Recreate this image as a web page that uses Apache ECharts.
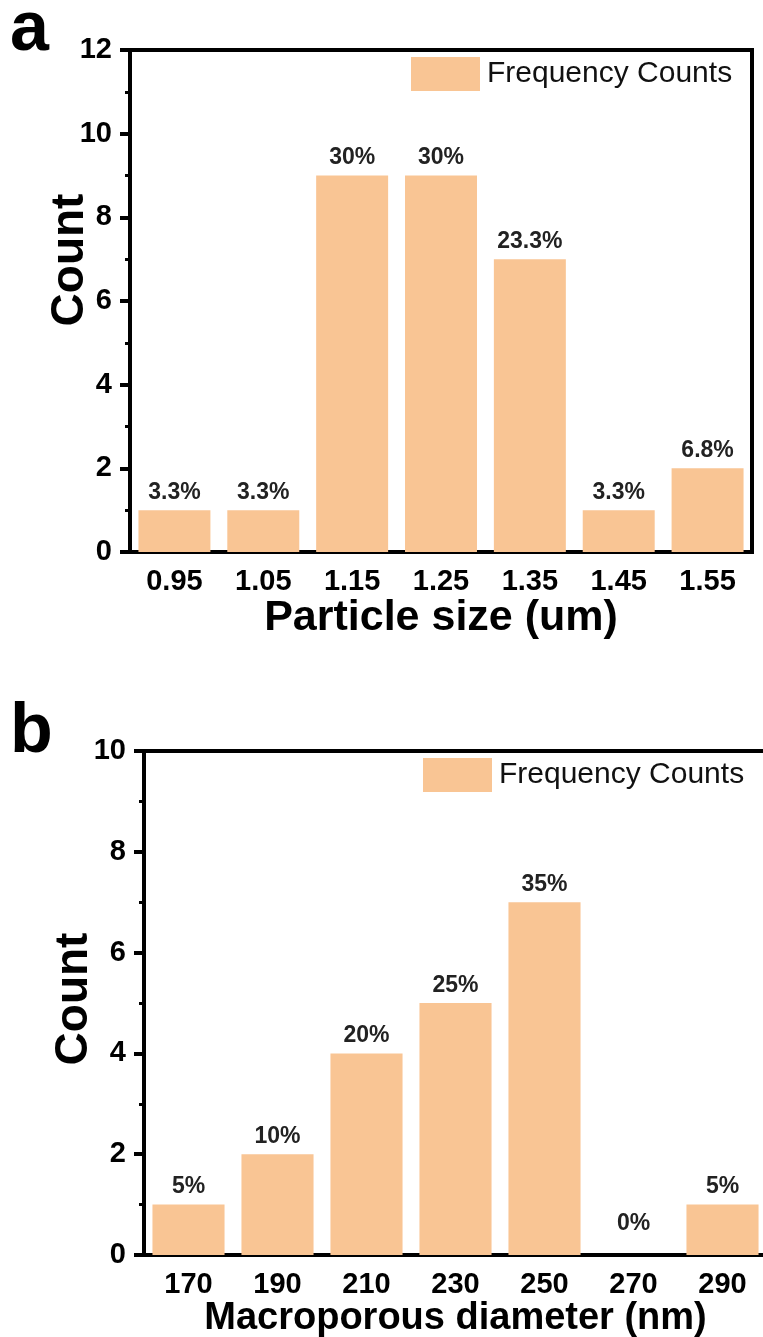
<!DOCTYPE html>
<html>
<head>
<meta charset="utf-8">
<script src="https://cdn.jsdelivr.net/npm/echarts@6/dist/echarts.min.js"></script>
<style>
html,body{margin:0;padding:0;background:#fff}
#main{width:763px;height:1337px}
</style>
</head>
<body>
<div id="main"></div>
<script>
// panel a: particle size
var sizeLabels = ['0.95', '1.05', '1.15', '1.25', '1.35', '1.45', '1.55'];
var sizeCounts = [1, 1, 9, 9, 7, 1, 2];
var sizePercent = ['3.3%', '3.3%', '30%', '30%', '23.3%', '3.3%', '6.8%'];

// panel b: macroporous diameter
var diamLabels = ['170', '190', '210', '230', '250', '270', '290'];
var diamCounts = [1, 2, 4, 5, 7, 0, 1];
var diamPercent = ['5%', '10%', '20%', '25%', '35%', '0%', '5%'];

var seriesName = 'Frequency Counts';
var font = 'Liberation Sans, Arial, sans-serif';
var barColor = '#F9C594';

var myChart = echarts.init(document.getElementById('main'));

function mainX(grid, cats, title, titleSize) {
    return {
        type: 'category', gridIndex: grid, data: cats, position: 'bottom',
        axisLine: {lineStyle: {color: '#000', width: 4}},
        axisTick: {alignWithLabel: true, length: 10, lineStyle: {color: '#000', width: 4}},
        axisLabel: {fontSize: 29, fontWeight: 'bold', color: '#000', fontFamily: font, margin: 15},
        name: title, nameLocation: 'middle', nameGap: 42,
        nameTextStyle: {fontSize: titleSize, fontWeight: 'bold', color: '#000', fontFamily: font}
    };
}
// short ticks between the bars
function minorX(grid, cats, h) {
    return {
        type: 'category', gridIndex: grid, data: cats, position: 'top', offset: -h,
        axisLine: {show: false},
        axisTick: {inside: true, length: 5, lineStyle: {color: '#000', width: 3}},
        axisLabel: {show: false}
    };
}
function yAx(grid, max, gap, pad) {
    return {
        type: 'value', gridIndex: grid, min: 0, max: max, interval: 2,
        axisLine: {show: true, lineStyle: {color: '#000', width: 4}},
        axisTick: {show: true, length: 10, lineStyle: {color: '#000', width: 4}},
        minorTick: {show: true, splitNumber: 2, length: 5, lineStyle: {color: '#000', width: 3}},
        splitLine: {show: false},
        axisLabel: {fontSize: 29, fontWeight: 'bold', color: '#000', fontFamily: font, margin: 18},
        name: 'Count', nameLocation: 'middle', nameGap: gap, nameMoveOverlap: false,
        nameTextStyle: {fontSize: 46, fontWeight: 'bold', color: '#000', fontFamily: font, padding: pad}
    };
}
function bars(idx, counts, pcts) {
    return {
        name: seriesName, type: 'bar', xAxisIndex: idx * 2, yAxisIndex: idx,
        barCategoryGap: '19%',
        itemStyle: {color: barColor},
        data: counts.map(function (v) {
            return v === 0 ? {value: v, label: {distance: 20}} : v;
        }),
        label: {
            show: true, position: 'top', distance: 6,
            fontSize: 23, fontWeight: 'bold', color: '#222', fontFamily: font,
            formatter: function (p) { return pcts[p.dataIndex]; }
        }
    };
}
var legendBase = {
    data: [seriesName], icon: 'rect', itemWidth: 69, itemHeight: 34, selectedMode: false,
    textStyle: {fontSize: 30, color: '#111', fontFamily: font, padding: [0, 0, 0, 2]}
};

var option = {
    animation: false,
    backgroundColor: '#fff',
    grid: [
        {left: 130, top: 50, width: 622, height: 502, show: true, borderColor: '#000', borderWidth: 4, outerBoundsMode: 'none'},
        {left: 144, top: 751, width: 623, height: 504, show: true, borderColor: '#000', borderWidth: 4, outerBoundsMode: 'none'}
    ],
    legend: [
        echarts.util.merge({left: 406, top: 52}, legendBase),
        echarts.util.merge({left: 418, top: 753}, legendBase)
    ],
    xAxis: [
        mainX(0, sizeLabels, 'Particle size (um)', 43),
        minorX(0, sizeLabels, 502),
        mainX(1, diamLabels, 'Macroporous diameter (nm)', 38),
        minorX(1, diamLabels, 504)
    ],
    yAxis: [
        yAx(0, 12, 37, [0, 0, 0, 82]),
        yAx(1, 10, 47, [0, 0, 0, 8])
    ],
    series: [
        bars(0, sizeCounts, sizePercent),
        bars(1, diamCounts, diamPercent)
    ],
    graphic: [
        {type: 'text', left: 10, top: -4, style: {text: 'a', fontSize: 70, fontWeight: 'bold', fill: '#000', fontFamily: font}},
        {type: 'text', left: 10, top: 698, style: {text: 'b', fontSize: 70, fontWeight: 'bold', fill: '#000', fontFamily: font}}
    ]
};
myChart.setOption(option);
</script>
</body>
</html>
